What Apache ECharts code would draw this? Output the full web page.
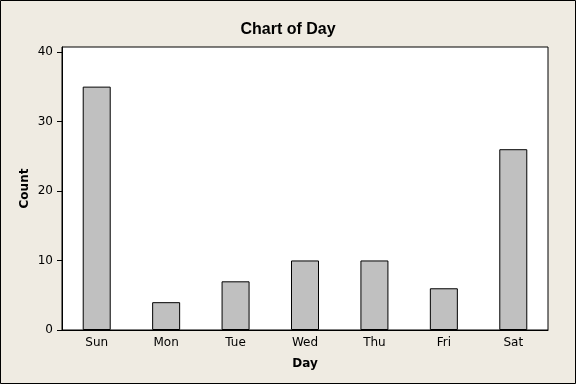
<!DOCTYPE html>
<html>
<head>
<meta charset="utf-8">
<script src="https://cdn.jsdelivr.net/npm/echarts@6/dist/echarts.min.js"></script>
<style>html,body{margin:0;padding:0;background:#EFEBE2}#c{width:576px;height:384px}</style>
</head>
<body>
<div id="c"></div>
<script>
const categories = ['Sun', 'Mon', 'Tue', 'Wed', 'Thu', 'Fri', 'Sat'];
const counts = [35, 4, 7, 10, 10, 6, 26];
const yTicks = [0, 10, 20, 30, 40];

const chart = echarts.init(document.getElementById('c'));
const font = 'Tahoma, "DejaVu Sans", sans-serif';
chart.setOption({
  backgroundColor: '#EFEBE2',
  animation: false,
  title: {
    text: 'Chart of Day', left: 'center', top: 17,
    textStyle: { fontFamily: '"Liberation Sans", Arial, sans-serif', fontSize: 16, fontWeight: 'bold', color: '#000' }
  },
  grid: {
    left: 62, right: 28, top: 47, bottom: 54,
    show: true, backgroundColor: '#fff', borderColor: '#000', borderWidth: 1
  },
  xAxis: {
    type: 'category', data: categories,
    name: 'Day', nameLocation: 'middle', nameGap: 28,
    nameTextStyle: { fontFamily: font, fontSize: 12, fontWeight: 'bold', color: '#000' },
    axisLine: { lineStyle: { color: '#000', width: 1 } },
    axisTick: { alignWithLabel: true, length: 5, lineStyle: { color: '#000' } },
    axisLabel: { fontFamily: font, fontSize: 12, color: '#000', margin: 7 }
  },
  yAxis: {
    type: 'value', min: 0, max: 40.7,
    name: 'Count', nameLocation: 'middle', nameGap: 31, nameRotate: 90, nameMoveOverlap: false,
    nameTextStyle: { fontFamily: font, fontSize: 12, fontWeight: 'bold', color: '#000' },
    splitLine: { show: false },
    axisLine: { show: true, lineStyle: { color: '#000', width: 1 } },
    axisTick: { show: true, length: 5, customValues: yTicks, lineStyle: { color: '#000' } },
    axisLabel: { fontFamily: font, fontSize: 12, color: '#000', margin: 9, customValues: yTicks }
  },
  series: [{
    type: 'bar', data: counts, barWidth: 28,
    itemStyle: { color: '#C0C0C0', borderColor: '#000', borderWidth: 1 }
  }],
  graphic: [{
    type: 'rect', shape: { x: 0.5, y: 0.5, width: 575, height: 383 },
    style: { fill: 'none', stroke: '#000', lineWidth: 1 }, silent: true
  }]
});
</script>
</body>
</html>
